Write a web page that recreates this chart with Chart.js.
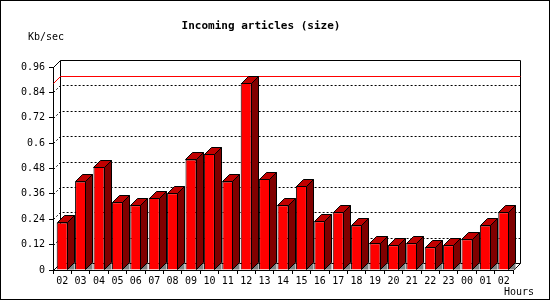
<!DOCTYPE html>
<html lang="en">
<head>
  <meta charset="UTF-8" />
  <title>Incoming articles (size)</title>
  <script src="https://cdn.jsdelivr.net/npm/chart.js"></script>
  <style>
    body {
      margin: 0;
      background: #fff;
    }
    #wrap {
      width: 550px;
      height: 300px;
    }
  </style>
</head>
<body>
  <div id="wrap"><canvas id="chart" width="550" height="300"></canvas></div>

  <script>
    // Data
    const hours = ['02','03','04','05','06','07','08','09','10','11','12','13',
                   '14','15','16','17','18','19','20','21','22','23','00','01','02'];
    const kbPerSec = [0.225, 0.419, 0.488, 0.320, 0.306, 0.342, 0.363, 0.523, 0.550, 0.419,
                      0.884, 0.432, 0.306, 0.397, 0.230, 0.273, 0.211, 0.126, 0.117, 0.126,
                      0.107, 0.117, 0.145, 0.211, 0.273];
    const yTicks = [0, 0.12, 0.24, 0.36, 0.48, 0.6, 0.72, 0.84, 0.96];

    const titleText = 'Incoming articles (size)';
    const yUnit = 'Kb/sec';
    const xUnit = 'Hours';

    const depth = 7;
    const mono = "'DejaVu Sans Mono', monospace";

    // back wall, dotted grid and the max line
    const wallPlugin = {
      id: 'wall',
      beforeDatasetsDraw(chart) {
        const { ctx, chartArea: a, scales: { y } } = chart;
        const L = Math.round(a.left) + 0.5, R = Math.round(a.right) + 0.5;
        const T = Math.round(a.top) + 0.5, B = Math.round(a.bottom) + 0.5;
        ctx.save();
        ctx.lineWidth = 1;
        ctx.strokeStyle = '#000';

        // dotted grid lines on the back wall
        ctx.setLineDash([2, 2]);
        yTicks.forEach(v => {
          if (v <= 0 || v >= yTicks[yTicks.length - 1]) return;
          const py = Math.round(y.getPixelForValue(v)) + 0.5;
          ctx.beginPath();
          ctx.moveTo(L, py);
          ctx.lineTo(L + depth, py - depth);
          ctx.lineTo(R + depth, py - depth);
          ctx.stroke();
        });
        ctx.setLineDash([]);

        // wall edges
        ctx.beginPath();
        ctx.moveTo(L, T);
        ctx.lineTo(L + depth, T - depth);
        ctx.lineTo(R + depth, T - depth);
        ctx.lineTo(R + depth, B - depth);
        ctx.lineTo(R, B);
        ctx.moveTo(L + depth, T - depth);
        ctx.lineTo(L + depth, B - depth);
        ctx.lineTo(R + depth, B - depth);
        ctx.moveTo(L, B);
        ctx.lineTo(L + depth, B - depth);
        ctx.stroke();

        // max line
        const maxV = Math.max(...kbPerSec);
        const my = Math.round(y.getPixelForValue(maxV)) + 0.5;
        ctx.strokeStyle = '#ff0000';
        ctx.beginPath();
        ctx.moveTo(L, my);
        ctx.lineTo(L + depth, my - depth);
        ctx.lineTo(R + depth, my - depth);
        ctx.stroke();
        ctx.restore();
      },
      afterDatasetsDraw(chart) {
        const { ctx } = chart;
        const meta = chart.getDatasetMeta(0);
        ctx.save();
        ctx.lineWidth = 1;
        ctx.strokeStyle = '#000';
        meta.data.forEach(bar => {
          const p = bar.getProps(['x', 'y', 'width', 'base'], true);
          const xl = Math.round(p.x - p.width / 2) + 0.5;
          const xr = Math.round(p.x + p.width / 2) - 0.5;
          const top = Math.round(p.y) + 0.5;
          const base = Math.round(p.base) - 0.5;

          // floor shadow
          ctx.fillStyle = '#808080';
          ctx.beginPath();
          ctx.moveTo(xr, base);
          ctx.lineTo(xr + depth, base - depth);
          ctx.lineTo(xr + depth, base);
          ctx.closePath();
          ctx.fill();

          // side face
          ctx.fillStyle = '#800000';
          ctx.beginPath();
          ctx.moveTo(xr, top);
          ctx.lineTo(xr + depth, top - depth);
          ctx.lineTo(xr + depth, base - depth);
          ctx.lineTo(xr, base);
          ctx.closePath();
          ctx.fill();
          ctx.stroke();

          // top face
          ctx.fillStyle = '#c00000';
          ctx.beginPath();
          ctx.moveTo(xl, top);
          ctx.lineTo(xl + depth, top - depth);
          ctx.lineTo(xr + depth, top - depth);
          ctx.lineTo(xr, top);
          ctx.closePath();
          ctx.fill();
          ctx.stroke();
        });
        ctx.restore();
      },
      afterDraw(chart) {
        const { ctx, width, height } = chart;
        ctx.save();
        ctx.fillStyle = '#000';
        ctx.textBaseline = 'middle';
        ctx.font = 'bold 11px ' + mono;
        ctx.textAlign = 'center';
        ctx.fillText(titleText, 261, 26);
        ctx.font = '10px ' + mono;
        ctx.textAlign = 'left';
        ctx.fillText(yUnit, 28, 37);
        ctx.fillText(xUnit, 504, 292);
        // frame
        ctx.strokeStyle = '#000';
        ctx.lineWidth = 1;
        ctx.strokeRect(0.5, 0.5, width - 1, height - 1);
        ctx.restore();
      }
    };

    const ctx = document.getElementById('chart').getContext('2d');
    new Chart(ctx, {
      type: 'bar',
      data: {
        labels: hours,
        datasets: [{
          label: yUnit,
          data: kbPerSec,
          backgroundColor: '#ff0000',
          borderColor: '#000',
          borderWidth: 1,
          borderSkipped: 'bottom',
          barPercentage: 0.6,
          categoryPercentage: 1.0
        }]
      },
      options: {
        responsive: false,
        animation: false,
        layout: { padding: { top: 67, right: 37, left: 0, bottom: 0 } },
        plugins: {
          legend: { display: false },
          title: { display: false },
          tooltip: { enabled: false }
        },
        scales: {
          x: {
            grid: { drawOnChartArea: false, offset: true, tickLength: 4, color: '#000' },
            border: { display: true, color: '#000' },
            ticks: { color: '#000', font: { family: mono, size: 10 }, padding: 1,
                     maxRotation: 0, autoSkip: false },
            afterFit(scale) { scale.height = 30; }
          },
          y: {
            min: 0,
            max: yTicks[yTicks.length - 1],
            afterBuildTicks(scale) { scale.ticks = yTicks.map(v => ({ value: v })); },
            grid: { drawOnChartArea: false, tickLength: 4, color: '#000' },
            border: { display: true, color: '#000' },
            ticks: {
              color: '#000',
              font: { family: mono, size: 10 },
              padding: 4,
              callback: v => String(parseFloat(Number(v).toFixed(2)))
            },
            afterFit(scale) { scale.width = 53; }
          }
        }
      },
      plugins: [wallPlugin]
    });
  </script>
</body>
</html>
